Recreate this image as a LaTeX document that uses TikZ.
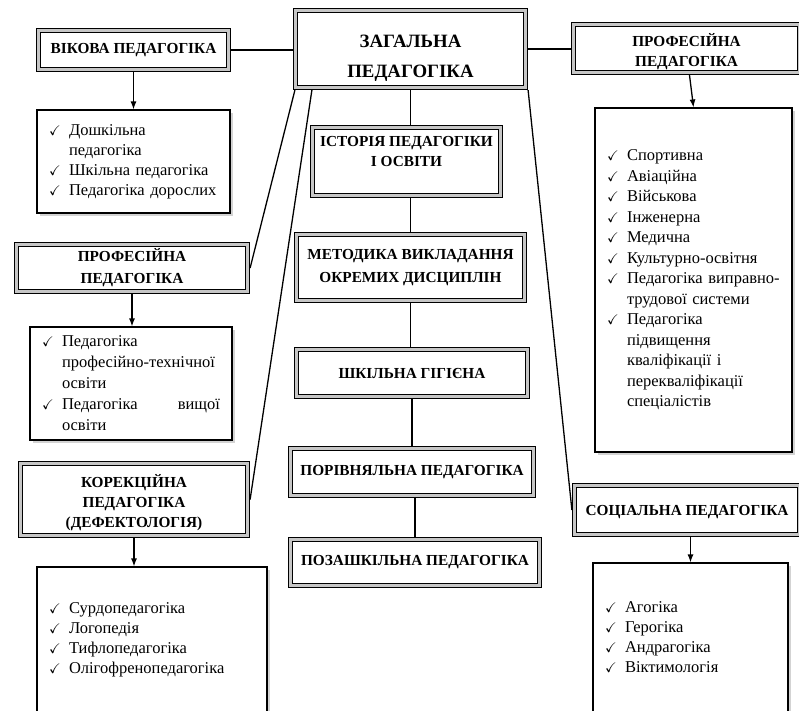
\documentclass[tikz,border=0pt]{standalone}
\usepackage{amssymb}
\usepackage{fontspec}
\setmainfont{Liberation Serif}
\usetikzlibrary{positioning,shadows,arrows.meta}

\newcommand{\hdrfont}{\fontsize{15.3}{20}\selectfont\bfseries}
\newcommand{\lstfont}{\fontsize{16.5}{20}\selectfont}
\newcommand{\itm}{\makebox[20pt][l]{\fontsize{14}{12}\selectfont$\checkmark$}}
\newcommand{\cnt}{\hspace*{20pt}}

\begin{document}
\begin{tikzpicture}[x=1pt,y=-1pt,
  hdr/.style={draw,line width=0.8pt,double=gray!45,double distance=3.6pt,fill=white,
    font=\hdrfont,align=center,inner sep=0pt,outer sep=2.6pt},
  lst/.style={draw,line width=1.1pt,fill=white,font=\lstfont,align=left,
    inner xsep=12pt,inner ysep=0pt,
    drop shadow={shadow xshift=2.5pt,shadow yshift=-2.5pt,opacity=0.35}},
  link/.style={line width=1.3pt},
  >={Latex[length=8pt,width=6pt]}]
\useasboundingbox (0,0) rectangle (799,710);

% centre column
\node[hdr,minimum width=230pt,minimum height=77pt,
  font=\fontsize{18.8}{30}\selectfont\bfseries] (zag) at (410.5,49) {\rule{0pt}{32pt}ЗАГАЛЬНА\\ПЕДАГОГІКА};
\node[hdr,minimum width=188pt,minimum height=68pt] (ist) at (406.5,161.5) {ІСТОРІЯ ПЕДАГОГІКИ\\І ОСВІТИ\\ \mbox{}};
\node[hdr,minimum width=228pt,minimum height=66pt,font=\fontsize{15.3}{23}\selectfont\bfseries] (met) at (410.5,267.5) {МЕТОДИКА ВИКЛАДАННЯ\\ОКРЕМИХ ДИСЦИПЛІН};
\node[hdr,minimum width=231pt,minimum height=47pt] (shk) at (412,373) {ШКІЛЬНА ГІГІЄНА};
\node[hdr,minimum width=243pt,minimum height=47pt] (por) at (412,472) {ПОРІВНЯЛЬНА ПЕДАГОГІКА};
\node[hdr,minimum width=249pt,minimum height=46pt] (poz) at (415,562.5) {ПОЗАШКІЛЬНА ПЕДАГОГІКА};

% left column
\node[hdr,minimum width=190pt,minimum height=39pt] (vik) at (133.5,50) {ВІКОВА ПЕДАГОГІКА};
\node[lst,text width=169pt,minimum height=103pt] (lvik) at (133.5,161.5)
  {\itm Дошкільна\\\cnt педагогіка\\\itm Шкільна педагогіка\\\itm Педагогіка дорослих};
\node[hdr,minimum width=231pt,minimum height=47pt,font=\fontsize{15.3}{22}\selectfont\bfseries] (prof1) at (132,268) {ПРОФЕСІЙНА\\ПЕДАГОГІКА};
\node[lst,text width=178pt,minimum height=113pt,font=\fontsize{16.5}{21}\selectfont] (lprof1) at (131,383.5)
  {\itm Педагогіка\\\cnt професійно-технічної\\\cnt освіти\\\itm Педагогіка\hfill вищої\\\cnt освіти};
\node[hdr,minimum width=227pt,minimum height=72pt] (kor) at (134,499.5) {\rule{0pt}{19pt}КОРЕКЦІЙНА\\ПЕДАГОГІКА\\(ДЕФЕКТОЛОГІЯ)};
\node[lst,text width=206pt,minimum height=145pt] (lkor) at (152,639.5)
  {\itm Сурдопедагогіка\\\itm Логопедія\\\itm Тифлопедагогіка\\\itm Олігофренопедагогіка};

% right column
\node[hdr,minimum width=226pt,minimum height=48pt] (prof2) at (686.5,48.5) {\rule{0pt}{19pt}ПРОФЕСІЙНА\\ПЕДАГОГІКА};
\node[lst,text width=173pt,minimum height=344pt,font=\fontsize{16.5}{20.5}\selectfont] (lprof2) at (693.5,280)
  {\itm Спортивна\\\itm Авіаційна\\\itm Військова\\\itm Інженерна\\\itm Медична\\
   \itm Культурно-освітня\\\itm Педагогіка виправно-\\\cnt трудової системи\\
   \itm Педагогіка\\\cnt підвищення\\\cnt кваліфікації і\\\cnt перекваліфікації\\\cnt спеціалістів};
\node[hdr,minimum width=225pt,minimum height=49pt] (soc) at (687,510) {\rule{0pt}{14pt}СОЦІАЛЬНА ПЕДАГОГІКА};
\node[lst,text width=171pt,minimum height=149pt] (lsoc) at (690.5,637.5)
  {\itm Агогіка\\\itm Герогіка\\\itm Андрагогіка\\\itm Віктимологія};

% links
\draw[link] (vik.east) -- (vik.east -| zag.west);
\draw[link] (zag.east) -- (zag.east -| prof2.west);
\draw[link] (zag.south) -- (zag.south |- ist.north);
\draw[link] (met.north |- ist.south) -- (met.north);
\draw[link] (met.south) -- (met.south |- shk.north);
\draw[link] (shk.south) -- (shk.south |- por.north);
\draw[link] (poz.north |- por.south) -- (poz.north);
\draw[link] ([xshift=2pt]zag.south west) -- (prof1.east);
\draw[link] ([xshift=19pt]zag.south west) -- (kor.east);
\draw[link] (zag.south east) -- (soc.west);

% arrows
\draw[link,->] (vik.south) -- (vik.south |- lvik.north);
\draw[link,->] (prof1.south) -- (prof1.south |- lprof1.north);
\draw[link,->] (kor.south) -- (kor.south |- lkor.north);
\draw[link,->] ([xshift=3pt]prof2.south) -- (lprof2.north);
\draw[link,->] (lsoc.north |- soc.south) -- (lsoc.north);
\end{tikzpicture}
\end{document}
